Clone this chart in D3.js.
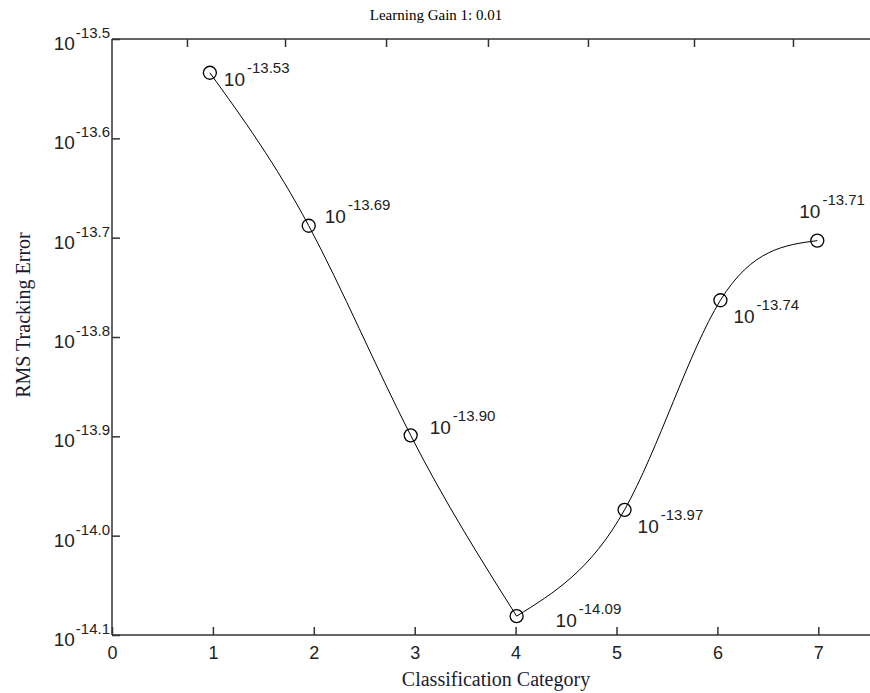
<!DOCTYPE html>
<html>
<head>
<meta charset="utf-8">
<script src="https://cdn.jsdelivr.net/npm/d3@7"></script>
<style>
  body { margin: 0; background: #fff; }
  svg { display: block; }
</style>
</head>
<body>
<div id="chart"></div>
<script>
// data
var categories = [0.97, 1.95, 2.96, 4.01, 5.08, 6.03, 6.99];   // marker x
var exponents  = [-13.534, -13.688, -13.899, -14.081, -13.974, -13.763, -13.703]; // log10 of error
var pointLabels = ["-13.53", "-13.69", "-13.90", "-14.09", "-13.97", "-13.74", "-13.71"];
var xTicks = [0, 1, 2, 3, 4, 5, 6, 7];
var topTicks = [0.743, 1.715, 2.716, 3.726, 4.717, 5.768, 6.749];
var yTickExp = [-13.5, -13.6, -13.7, -13.8, -13.9, -14.0, -14.1];
var yTickLabels = ["-13.5", "-13.6", "-13.7", "-13.8", "-13.9", "-14.0", "-14.1"];

// label placement next to each marker (layout, not data)
var labelOffsets = [[14, 13], [16, -3], [19, -1], [39, 11], [13, 23], [13, 23], [-18, -23]];

var W = 870, H = 693;
var plotLeft = 112, plotTop = 39, plotBottom = 635;

var svg = d3.select('#chart').append('svg')
    .attr('width', W).attr('height', H);

var x = d3.scaleLinear().domain([0, 7.6]).range([plotLeft, plotLeft + 7.6 * 100.9]);
var y = d3.scaleLog().domain([Math.pow(10, -14.1), Math.pow(10, -13.5)]).range([plotBottom, plotTop]);

var sans = "'Liberation Sans', Arial, sans-serif";
var serif = "'Liberation Serif', 'Times New Roman', serif";
var axisColor = "#333";

// frame lines (left, top, bottom)
svg.append("line").attr("x1", plotLeft).attr("x2", plotLeft).attr("y1", plotTop).attr("y2", plotBottom)
    .attr("stroke", axisColor).attr("stroke-width", 1.5);
svg.append("line").attr("x1", plotLeft).attr("x2", W + 10).attr("y1", plotTop).attr("y2", plotTop)
    .attr("stroke", axisColor).attr("stroke-width", 1.5);
svg.append("line").attr("x1", plotLeft).attr("x2", W + 10).attr("y1", plotBottom).attr("y2", plotBottom)
    .attr("stroke", axisColor).attr("stroke-width", 1.5);

// bottom axis
var xAxis = svg.append("g")
    .attr("transform", "translate(0," + plotBottom + ")")
    .call(d3.axisBottom(x).tickValues(xTicks).tickSize(-8).tickPadding(11).tickFormat(d3.format("d")));
xAxis.select(".domain").remove();
xAxis.selectAll("line").attr("stroke", axisColor).attr("stroke-width", 1.5);
xAxis.selectAll("text")
    .attr("fill", "#222")
    .style("font-family", sans).style("font-size", "18px");

// top ticks
var tAxis = svg.append("g")
    .attr("transform", "translate(0," + plotTop + ")")
    .call(d3.axisTop(x).tickValues(topTicks).tickSize(-8).tickFormat(""));
tAxis.select(".domain").remove();
tAxis.selectAll("line").attr("stroke", axisColor).attr("stroke-width", 1.5);

// left axis with 10^exp labels
var yAxis = svg.append("g")
    .attr("transform", "translate(" + plotLeft + ",0)")
    .call(d3.axisLeft(y).tickValues(yTickExp.map(function (e) { return Math.pow(10, e); }))
        .tickSize(-8).tickFormat(""));
yAxis.select(".domain").remove();
yAxis.selectAll("line").attr("stroke", axisColor).attr("stroke-width", 1.5);

svg.append("g").selectAll("text")
    .data(yTickExp)
    .enter()
    .append("text")
    .attr("x", plotLeft - 2)
    .attr("y", function (d) { return y(Math.pow(10, d)) + 11; })
    .attr("text-anchor", "end")
    .attr("fill", "#222")
    .style("font-family", sans)
    .each(function (d, i) {
        var t = d3.select(this);
        t.append("tspan").style("font-size", "19px").text("10");
        t.append("tspan").attr("dx", 1).attr("dy", -12).style("font-size", "15px").text(yTickLabels[i]);
    });

// curve: natural spline on each side of the minimum
var pts = categories.map(function (c, i) { return [c, exponents[i]]; });
var iMin = d3.minIndex(exponents);
var line = d3.line()
    .x(function (d) { return x(d[0]); })
    .y(function (d) { return y(Math.pow(10, d[1])); })
    .curve(d3.curveNatural);

svg.append("path")
    .attr("d", line(pts.slice(0, iMin + 1)) + line(pts.slice(iMin)))
    .attr("fill", "none")
    .attr("stroke", "#000")
    .attr("stroke-width", 1);

svg.append("g").selectAll("circle")
    .data(pts)
    .enter()
    .append("circle")
    .attr("cx", function (d) { return x(d[0]); })
    .attr("cy", function (d) { return y(Math.pow(10, d[1])); })
    .attr("r", 6.5)
    .attr("fill", "none")
    .attr("stroke", "#000")
    .attr("stroke-width", 1.3);

// point labels
svg.append("g").selectAll("text")
    .data(pts)
    .enter()
    .append("text")
    .attr("x", function (d, i) { return x(d[0]) + labelOffsets[i][0]; })
    .attr("y", function (d, i) { return y(Math.pow(10, d[1])) + labelOffsets[i][1]; })
    .attr("fill", "#222")
    .style("font-family", sans)
    .each(function (d, i) {
        var t = d3.select(this);
        t.append("tspan").style("font-size", "19px").text("10");
        t.append("tspan").attr("dx", 2).attr("dy", -13).style("font-size", "15px").text(pointLabels[i]);
    });

// titles
svg.append("text")
    .attr("x", 436).attr("y", 20)
    .attr("text-anchor", "middle")
    .style("font-family", serif).style("font-size", "15px")
    .attr("fill", "#000")
    .text("Learning Gain 1: 0.01");

svg.append("text")
    .attr("x", 496).attr("y", 686)
    .attr("text-anchor", "middle")
    .style("font-family", serif).style("font-size", "20px")
    .attr("fill", "#1c1c30")
    .text("Classification Category");

svg.append("text")
    .attr("transform", "translate(30,315) rotate(-90)")
    .attr("text-anchor", "middle")
    .style("font-family", serif).style("font-size", "20px")
    .attr("fill", "#1c1c30")
    .text("RMS Tracking Error");
</script>
</body>
</html>
